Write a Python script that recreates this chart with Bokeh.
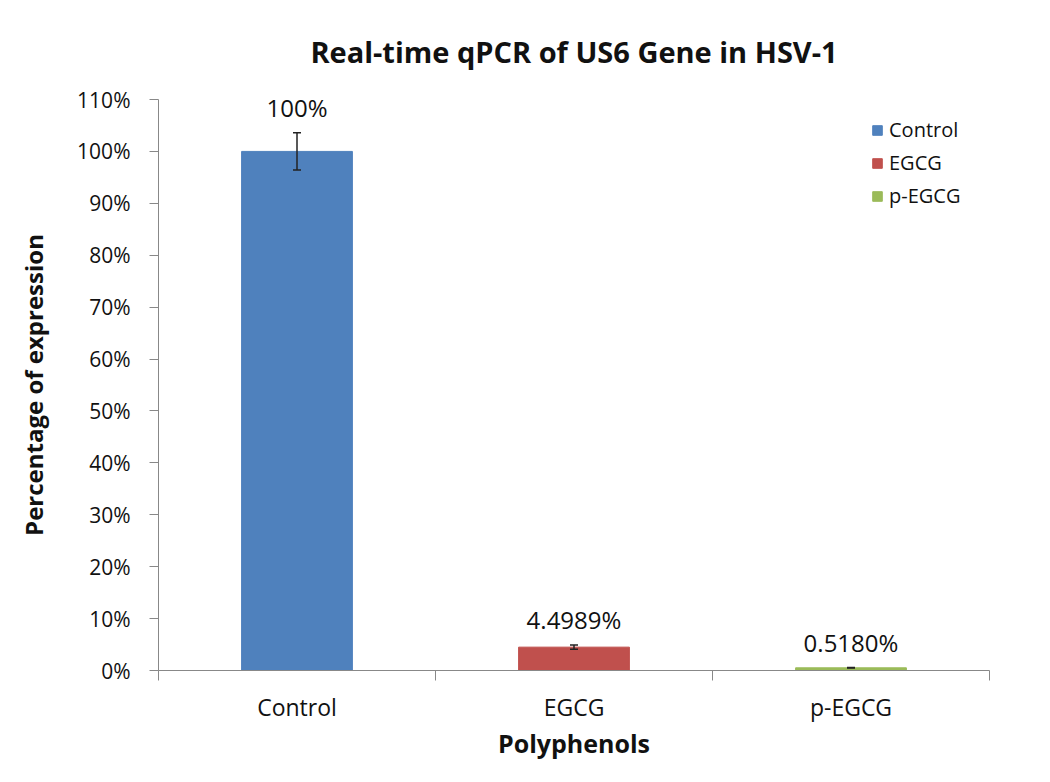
from bokeh.plotting import figure
from bokeh.models import ColumnDataSource, Range1d, FixedTicker, Whisker, Legend, LegendItem
from bokeh.core.properties import value
from bokeh.embed import file_html
from bokeh.resources import INLINE

title_text = "Real-time qPCR of US6 Gene in HSV-1"
categories = ["Control", "EGCG", "p-EGCG"]
values = [100.0, 4.4989, 0.5180]
errors = [3.6, 0.4, 0.05]
labels = ["100%", "4.4989%", "0.5180%"]
colors = ["#4F81BD", "#C0504D", "#9BBB59"]
y_ticks = [0, 10, 20, 30, 40, 50, 60, 70, 80, 90, 100, 110]

FONT = "Open Sans"
TXT = "#111111"
xpos = [i + 0.5 for i in range(len(categories))]
src = ColumnDataSource(dict(
    x=xpos, top=values, cat=categories, color=colors,
    upper=[v + e for v, e in zip(values, errors)],
    lower=[v - e for v, e in zip(values, errors)],
    lab=labels,
))

p = figure(width=1034, height=766, output_backend="svg", toolbar_location=None,
           x_range=Range1d(0, len(categories)), y_range=Range1d(0, 110),
           min_border_left=158, min_border_right=45, min_border_top=99, min_border_bottom=96)
p.outline_line_color = None
p.grid.grid_line_color = None
p.background_fill_color = "white"
p.border_fill_color = "white"

renderers = []
for i, c in enumerate(categories):
    r = p.vbar(x=[xpos[i]], top=[values[i]], bottom=0, width=0.4, color=colors[i])
    renderers.append(r)

w = Whisker(source=src, base="x", upper="upper", lower="lower", line_color="#222222",
            line_width=1.5, level="overlay")
for h in (w.upper_head, w.lower_head):
    h.size = 8
    h.line_color = "#222222"
    h.line_width = 1.5
p.add_layout(w)

p.text(x="x", y="upper", text="lab", source=src, text_align="center", text_baseline="bottom",
       y_offset=-9, text_font=value(FONT), text_font_size="24px", text_color=TXT)

# axes
p.yaxis.ticker = FixedTicker(ticks=y_ticks)
p.yaxis.major_label_overrides = {t: f"{t}%" for t in y_ticks}
p.yaxis.minor_tick_line_color = None
p.yaxis.major_tick_in = 0
p.yaxis.major_tick_out = 9
p.yaxis.axis_line_color = "#888888"
p.yaxis.major_tick_line_color = "#888888"
p.yaxis.major_label_text_font = FONT
p.yaxis.major_label_text_font_size = "21px"
p.yaxis.major_label_text_color = TXT
p.yaxis.major_label_standoff = 19
p.yaxis.axis_label = "Percentage of expression"
p.yaxis.axis_label_text_font = FONT
p.yaxis.axis_label_text_font_size = "24px"
p.yaxis.axis_label_text_font_style = "bold"
p.yaxis.axis_label_text_color = TXT
p.yaxis.axis_label_standoff = 24

p.xaxis.ticker = FixedTicker(ticks=xpos, minor_ticks=list(range(len(categories) + 1)))
p.xaxis.major_label_overrides = {x: c for x, c in zip(xpos, categories)}
p.xaxis.major_tick_line_color = None
p.xaxis.minor_tick_line_color = "#888888"
p.xaxis.minor_tick_in = 0
p.xaxis.minor_tick_out = 10
p.xaxis.axis_line_color = "#888888"
p.xaxis.major_label_text_font = FONT
p.xaxis.major_label_text_font_size = "23px"
p.xaxis.major_label_text_color = TXT
p.xaxis.major_label_standoff = 10
p.xaxis.axis_label = "Polyphenols"
p.xaxis.axis_label_text_font = FONT
p.xaxis.axis_label_text_font_size = "25px"
p.xaxis.axis_label_text_font_style = "bold"
p.xaxis.axis_label_text_color = TXT
p.xaxis.axis_label_standoff = 0

p.title.text = title_text
p.title.align = "center"
p.title.text_font = FONT
p.title.text_font_size = "29px"
p.title.text_font_style = "bold"
p.title.text_color = TXT
p.title.standoff = 58

legend = Legend(items=[LegendItem(label=c, renderers=[r]) for c, r in zip(categories, renderers)],
                location=(713, 461), glyph_width=12, glyph_height=12, spacing=6,
                label_text_font=FONT, label_text_font_size="20px", label_text_color=TXT,
                border_line_color=None, background_fill_alpha=0, padding=0, margin=0,
                label_standoff=6)
p.add_layout(legend)

open("out.html", "w").write(file_html(p, INLINE))
